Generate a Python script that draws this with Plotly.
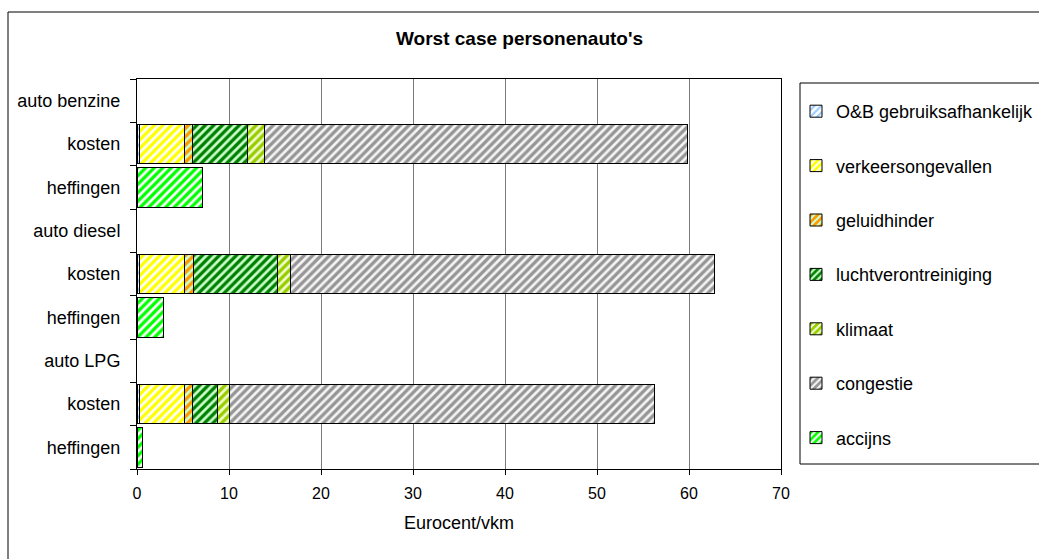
import plotly.graph_objects as go

categories = ["auto benzine", "kosten", "heffingen",
              "auto diesel", "kosten", "heffingen",
              "auto LPG", "kosten", "heffingen"]

series_names = ["O&B gebruiksafhankelijk", "verkeersongevallen", "geluidhinder",
                "luchtverontreiniging", "klimaat", "congestie", "accijns"]

ob_gebruik = [None, 0.25, None, None, 0.25, None, None, 0.25, None]
verkeersongevallen = [None, 4.9, None, None, 4.9, None, None, 4.9, None]
geluidhinder = [None, 0.9, None, None, 1.0, None, None, 0.9, None]
luchtverontreiniging = [None, 6.0, None, None, 9.15, None, None, 2.7, None]
klimaat = [None, 1.8, None, None, 1.4, None, None, 1.3, None]
congestie = [None, 45.95, None, None, 46.05, None, None, 46.15, None]
accijns = [None, None, 7.15, None, None, 2.9, None, None, 0.6]

values = [ob_gebruik, verkeersongevallen, geluidhinder, luchtverontreiniging,
          klimaat, congestie, accijns]

main_colors = ["#FFFFFF", "#FFFF00", "#FF9900", "#008000", "#99CC00", "#969696", "#00FF00"]
stripe_colors = ["#99CCFF", "#FFFFFF", "#CCFFCC", "#CCFFCC", "#EEFFCC", "#F4F4F4", "#FFFFFF"]

x_ticks = [0, 10, 20, 30, 40, 50, 60, 70]

FONT = "Arial, Liberation Sans, sans-serif"

# layout geometry (pixels)
W, H = 1039, 559
L, R, T, B = 137, 781, 79, 469
pw, ph = R - L, B - T

fig = go.Figure()
ypos = list(range(len(categories)))
for i, (name, vals) in enumerate(zip(series_names, values)):
    fig.add_trace(go.Bar(
        name=name,
        y=ypos,
        x=vals,
        orientation="h",
        width=0.92,
        legendgroup=f"g{i}",
        marker=dict(
            color=main_colors[i],
            line=dict(color="black", width=1),
            pattern=dict(shape="/", fgcolor=stripe_colors[i], bgcolor=main_colors[i],
                         size=6, solidity=0.45, fillmode="replace"),
        ),
        hoverinfo="skip",
    ))

boundaries = [k - 0.5 for k in range(len(categories) + 1)]

fig.update_layout(
    width=W, height=H,
    barmode="stack",
    paper_bgcolor="white",
    plot_bgcolor="white",
    margin=dict(l=L, r=W - R, t=T, b=H - B, pad=0, autoexpand=False),
    font=dict(family=FONT, size=16, color="black"),
    title=dict(text="<b>Worst case personenauto's</b>", x=0.5, xref="container",
               xanchor="center", y=1 - 38 / H, yref="container", yanchor="middle",
               font=dict(family=FONT, size=19, color="black")),
    xaxis=dict(
        range=[0, 70], tickvals=x_ticks, ticktext=[str(t) for t in x_ticks],
        showgrid=True, gridcolor="#7a7a7a", gridwidth=1,
        showline=True, linecolor="black", linewidth=1, mirror=True,
        ticks="outside", ticklen=5, tickcolor="black",
        ticklabelstandoff=5,
        zeroline=False,
        tickfont=dict(size=16),
        title=dict(text="Eurocent/vkm", font=dict(size=18), standoff=15),
    ),
    yaxis=dict(
        range=[len(categories) - 0.5, -0.5],
        tickvals=ypos, ticktext=categories,
        showgrid=False, zeroline=False,
        showline=True, linecolor="black", linewidth=1, mirror=True,
        ticks="outside", ticklen=6, tickcolor="rgba(0,0,0,0)",
        ticklabelstandoff=6,
        tickfont=dict(size=18),
        minor=dict(tickvals=boundaries, ticks="outside", ticklen=6,
                   tickcolor="black", showgrid=False),
    ),
    legend=dict(
        x=(796 - L) / pw, xanchor="left",
        y=(B - 93) / ph, yanchor="top",
        traceorder="grouped", tracegroupgap=28,
        borderwidth=0, bgcolor="rgba(0,0,0,0)",
        font=dict(size=18),
        itemwidth=30,
    ),
    showlegend=True,
)

# outer chart border
fig.add_shape(type="rect", xref="paper", yref="paper",
              x0=(8 - L) / pw, x1=(1080 - L) / pw,
              y0=(B - 600) / ph, y1=(B - 12) / ph,
              line=dict(color="black", width=1), fillcolor="rgba(0,0,0,0)", layer="below")

# legend box border
fig.add_shape(type="rect", xref="paper", yref="paper",
              x0=(800 - L) / pw, x1=(1080 - L) / pw,
              y0=(B - 464) / ph, y1=(B - 83) / ph,
              line=dict(color="black", width=1), fillcolor="rgba(0,0,0,0)", layer="below")

fig.write_html("out.html", post_script="document.body.style.margin='0';",
               config={"displayModeBar": False})
